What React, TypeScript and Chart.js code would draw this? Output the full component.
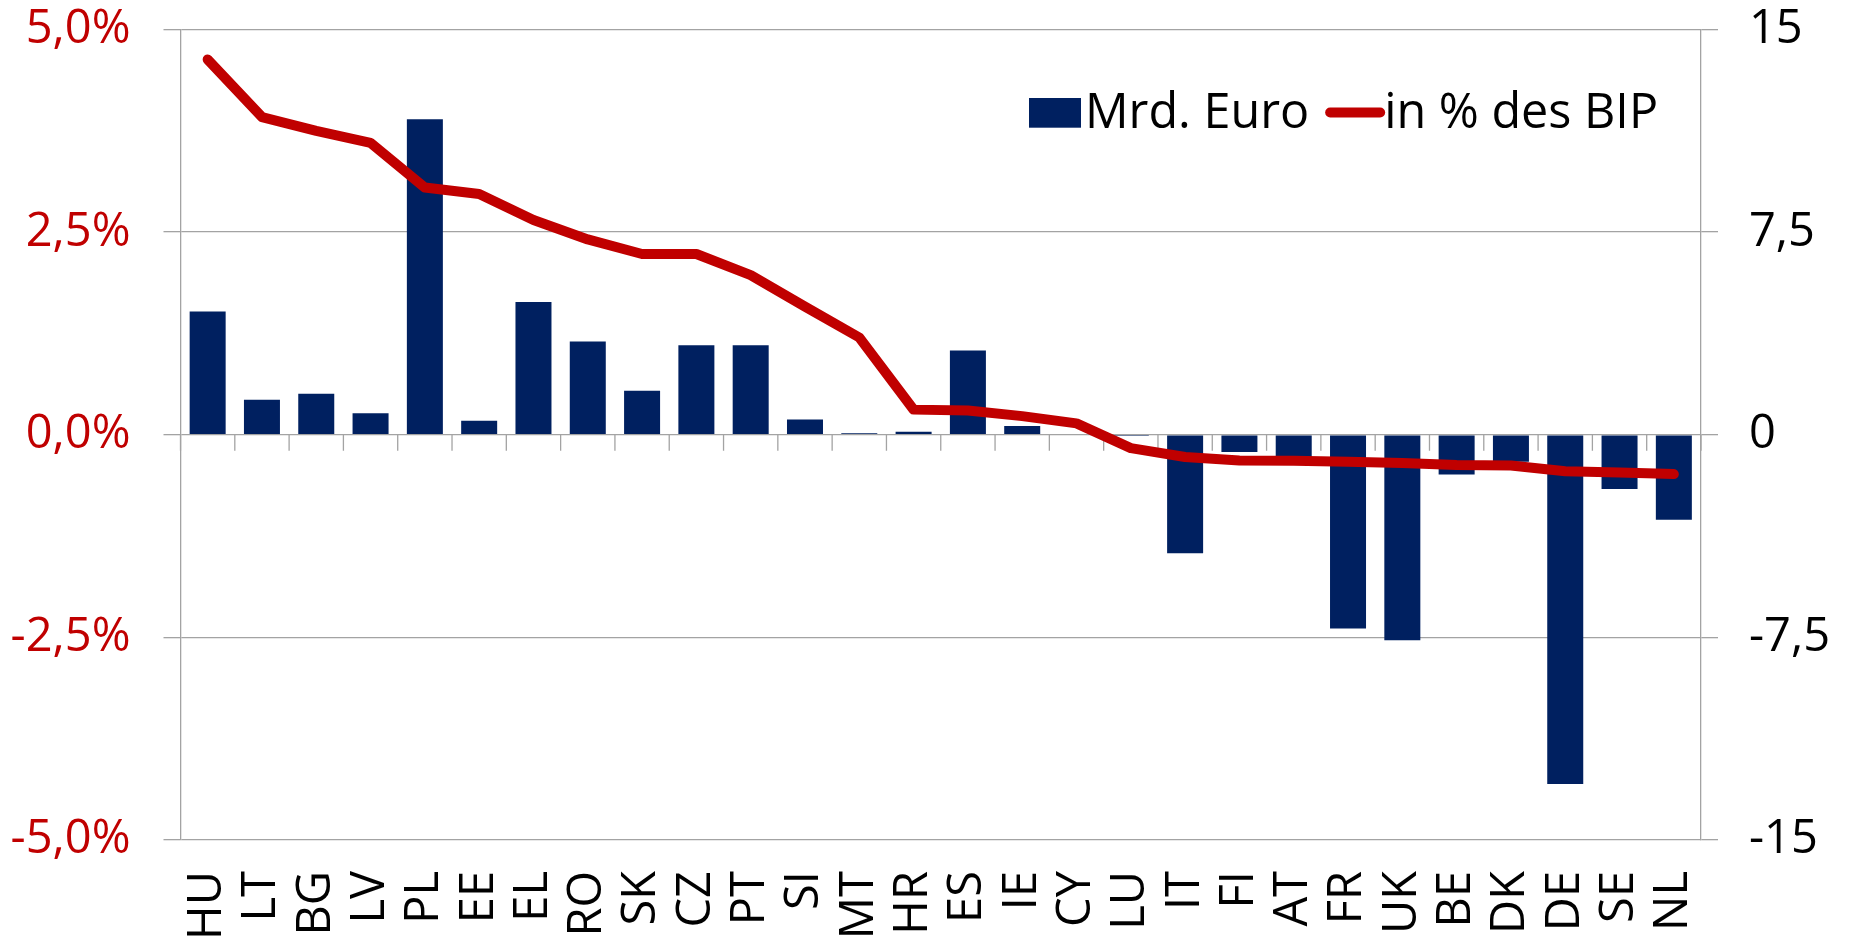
import React, { useEffect, useRef } from 'react';
import { Chart, registerables } from 'chart.js';

Chart.register(...registerables);

const categories = ['HU', 'LT', 'BG', 'LV', 'PL', 'EE', 'EL', 'RO', 'SK', 'CZ', 'PT', 'SI', 'MT', 'HR', 'ES', 'IE', 'CY', 'LU', 'IT', 'FI', 'AT', 'FR', 'UK', 'BE', 'DK', 'DE', 'SE', 'NL'];
const mrdEuro = [4.56, 1.30, 1.52, 0.80, 11.68, 0.52, 4.91, 3.45, 1.63, 3.31, 3.31, 0.56, 0.06, 0.11, 3.12, 0.32, 0.0, -0.05, -4.39, -0.64, -0.9, -7.17, -7.61, -1.47, -1.0, -12.93, -2.01, -3.15];
const pctBIP = [4.63, 3.92, 3.75, 3.60, 3.05, 2.97, 2.65, 2.41, 2.23, 2.23, 1.97, 1.58, 1.20, 0.31, 0.30, 0.23, 0.14, -0.165, -0.275, -0.317, -0.32, -0.333, -0.35, -0.374, -0.38, -0.45, -0.465, -0.485];
const pctTicks = [-5, -2.5, 0, 2.5, 5];
const eurTicks = [-15, -7.5, 0, 7.5, 15];
const seriesLabels = ['Mrd. Euro', 'in % des BIP'];

const NAVY = '#002060';
const RED = '#C00000';
const GRID = '#a3a3a3';
const FONT = "'Open Sans'";
const FS = 47;
const LEGEND_FS = 48.5;

const fmt = (v: number, pct: boolean) => {
  const s = pct ? v.toFixed(1) : String(v);
  return s.replace('.', ',') + (pct ? '%' : '');
};

const catTicksPlugin = {
  id: 'catTicks',
  beforeDatasetsDraw(chart: any) {
    const { ctx, chartArea } = chart;
    const xs = chart.scales.x;
    const ys = chart.scales.yPct;
    const y0 = ys.getPixelForValue(0);
    const n = categories.length;
    ctx.save();
    ctx.strokeStyle = GRID;
    ctx.lineWidth = 1.3;
    for (let i = 0; i <= n; i++) {
      let px;
      if (i === 0) px = chartArea.left;
      else if (i === n) px = chartArea.right;
      else px = (xs.getPixelForValue(i - 1) + xs.getPixelForValue(i)) / 2;
      ctx.beginPath();
      ctx.moveTo(px, y0);
      ctx.lineTo(px, y0 + 16);
      ctx.stroke();
    }
    ctx.restore();
  },
};

const legendPlugin = {
  id: 'customLegend',
  afterDraw(chart: any) {
    const { ctx, chartArea } = chart;
    ctx.save();
    ctx.font = `${LEGEND_FS}px ${FONT}`;
    ctx.textBaseline = 'alphabetic';
    ctx.textAlign = 'left';
    const baseline = chartArea.top + 98;
    let x = chartArea.right - 672;
    ctx.fillStyle = NAVY;
    ctx.fillRect(x, chartArea.top + 68.5, 52, 29.7);
    x += 56;
    ctx.fillStyle = '#000';
    ctx.fillText(seriesLabels[0], x, baseline);
    x += ctx.measureText(seriesLabels[0]).width + 16;
    ctx.strokeStyle = RED;
    ctx.lineWidth = 10;
    ctx.lineCap = 'round';
    ctx.beginPath();
    ctx.moveTo(x + 5, chartArea.top + 83);
    ctx.lineTo(x + 55, chartArea.top + 83);
    ctx.stroke();
    x += 59;
    ctx.fillStyle = '#000';
    ctx.fillText(seriesLabels[1], x, baseline);
    ctx.restore();
  },
};

const fixPad = (s: any, w: number) => {
  s.width = w;
  s.paddingTop = 29.5;
  s.paddingBottom = 0;
};

export default function App() {
  const ref = useRef<HTMLCanvasElement | null>(null);

  useEffect(() => {
    if (!ref.current) return;
    const chart = new Chart(ref.current, {
      type: 'bar',
      data: {
        labels: categories,
        datasets: [
          {
            type: 'line',
            label: seriesLabels[1],
            data: pctBIP,
            yAxisID: 'yPct',
            borderColor: RED,
            backgroundColor: RED,
            borderWidth: 10,
            borderJoinStyle: 'round',
            borderCapStyle: 'round',
            pointRadius: 0,
            tension: 0,
            order: 0,
          } as any,
          {
            type: 'bar',
            label: seriesLabels[0],
            data: mrdEuro,
            yAxisID: 'yEur',
            backgroundColor: NAVY,
            borderWidth: 0,
            barPercentage: 1,
            categoryPercentage: 0.663,
            order: 1,
          } as any,
        ],
      },
      options: {
        responsive: false,
        animation: false,
        layout: { padding: { top: 0, left: 0, right: 0, bottom: 0 } },
        plugins: {
          legend: { display: false },
          tooltip: { enabled: false },
        },
        scales: {
          x: {
            type: 'category',
            offset: true,
            grid: { display: false, drawTicks: false },
            border: { display: false },
            ticks: {
              autoSkip: false,
              maxRotation: 90,
              minRotation: 90,
              color: '#000',
              padding: 31,
              font: { family: FONT, size: FS },
            },
            afterFit: (s: any) => { s.height = 102; s.paddingLeft = 0; s.paddingRight = 0; },
          },
          yPct: {
            type: 'linear',
            position: 'left',
            min: -5,
            max: 5,
            afterBuildTicks: (s: any) => { s.ticks = pctTicks.map((v) => ({ value: v })); },
            ticks: {
              color: RED,
              padding: 33,
              font: { family: FONT, size: FS },
              callback: (v: any) => fmt(Number(v), true),
            },
            grid: { color: GRID, lineWidth: 1.3, tickLength: 17, tickColor: GRID, drawTicks: true },
            border: { display: true, color: GRID, width: 1.3 },
            afterFit: (s: any) => fixPad(s, 180.5),
          },
          yEur: {
            type: 'linear',
            position: 'right',
            min: -15,
            max: 15,
            afterBuildTicks: (s: any) => { s.ticks = eurTicks.map((v) => ({ value: v })); },
            ticks: {
              color: '#000',
              padding: 31,
              font: { family: FONT, size: FS },
              callback: (v: any) => fmt(Number(v), false),
            },
            grid: { drawOnChartArea: false, drawTicks: true, tickLength: 17, color: GRID, tickColor: GRID, lineWidth: 1.3 },
            border: { display: true, color: GRID, width: 1.3 },
            afterFit: (s: any) => fixPad(s, 149),
          },
        },
      } as any,
      plugins: [catTicksPlugin, legendPlugin],
    });
    if ((document as any).fonts && (document as any).fonts.ready) {
      (document as any).fonts.ready.then(() => chart.update());
    }
    return () => chart.destroy();
  }, []);

  return (
    <div style={{ position: 'absolute', left: 0, top: 0, width: 1850, height: 942, background: '#fff' }}>
      <canvas ref={ref} width={1850} height={942} style={{ display: 'block' }} />
    </div>
  );
}
